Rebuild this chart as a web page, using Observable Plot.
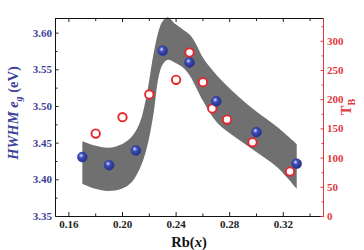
<!DOCTYPE html>
<html>
<head>
<meta charset="utf-8">
<script src="https://cdn.jsdelivr.net/npm/d3@7"></script>
<script src="https://cdn.jsdelivr.net/npm/@observablehq/plot@0.6"></script>
<style>
  html, body { margin: 0; padding: 0; background: #fff; }
  #chart svg { display: block; }
</style>
</head>
<body>
<div id="chart"></div>
<script>
// HWHM of the e_g band (left axis, eV)
const hwhmX  = [0.17, 0.19, 0.21, 0.23, 0.25, 0.27, 0.30, 0.33];
const hwhmEg = [3.431, 3.420, 3.440, 3.576, 3.560, 3.507, 3.465, 3.422];

// T_B (right axis)
const tbX      = [0.18, 0.20, 0.22, 0.24, 0.25, 0.26, 0.267, 0.278, 0.297, 0.325];
const tbValues = [142, 170, 209, 234, 281, 230, 185, 166, 127, 77];

// Shaded guide band
const bandX     = [0.1704, 0.1799, 0.1898, 0.1998, 0.2072, 0.2134, 0.2184, 0.2234, 0.2271, 0.2301, 0.2341, 0.2396, 0.2457, 0.2507, 0.2557, 0.2607, 0.2707, 0.2856, 0.3005, 0.3154, 0.3304];
const bandUpper = [3.452, 3.446, 3.443, 3.448, 3.458, 3.478, 3.515, 3.570, 3.601, 3.615, 3.621, 3.612, 3.604, 3.597, 3.583, 3.565, 3.542, 3.515, 3.492, 3.472, 3.448];
const bandLower = [3.394, 3.387, 3.384, 3.387, 3.396, 3.415, 3.442, 3.488, 3.538, 3.556, 3.563, 3.559, 3.552, 3.541, 3.524, 3.506, 3.478, 3.456, 3.437, 3.417, 3.387];

// Axes
const xDomain  = [0.15, 0.35];
const yDomain  = [3.35, 3.62];
const tbDomain = [0, 339];
const xTicks   = [0.16, 0.20, 0.24, 0.28, 0.32];
const xMinor   = [0.18, 0.22, 0.26, 0.30, 0.34];
const yTicks   = [3.35, 3.40, 3.45, 3.50, 3.55, 3.60];
const yMinor   = [3.375, 3.425, 3.475, 3.525, 3.575];
const tbTicks  = [0, 50, 100, 150, 200, 250, 300];
const tbMinor  = [25, 75, 125, 175, 225, 275, 325];

const BLUE = "#3b3f98";
const RED = "#df3a3f";
const FONT = "'Liberation Serif', 'DejaVu Serif', serif";

// map T_B onto the left-axis scale so both share one y scale
const tbToY = (t) => yDomain[0] + (t - tbDomain[0]) / (tbDomain[1] - tbDomain[0]) * (yDomain[1] - yDomain[0]);
const yToTb = (y) => tbDomain[0] + (y - yDomain[0]) / (yDomain[1] - yDomain[0]) * (tbDomain[1] - tbDomain[0]);

const hwhm = hwhmX.map((x, i) => ({x, y: hwhmEg[i]}));
const tb = tbX.map((x, i) => ({x, y: tbToY(tbValues[i])}));
const band = bandX.map((x, i) => ({x, lo: bandLower[i], hi: bandUpper[i]}));

// gradient for the shaded spheres
const sphereDefs = () => {
  const defs = d3.create("svg:defs");
  const g = defs.append("radialGradient").attr("id", "sphere")
    .attr("cx", "40%").attr("cy", "38%").attr("r", "60%").attr("fx", "38%").attr("fy", "34%");
  g.append("stop").attr("offset", "0%").attr("stop-color", "#ffffff");
  g.append("stop").attr("offset", "16%").attr("stop-color", "#8e9be6");
  g.append("stop").attr("offset", "42%").attr("stop-color", "#3a4bb4");
  g.append("stop").attr("offset", "100%").attr("stop-color", "#26318c");
  return defs.node();
};

const tickText = {fontFamily: FONT, fontWeight: "bold", fontSize: 11, label: null};

const chart = Plot.plot({
  width: 364,
  height: 250,
  marginLeft: 55,
  marginRight: 41,
  marginTop: 18,
  marginBottom: 34,
  style: {background: "#fff", overflow: "visible", fontFamily: FONT, fontWeight: "bold", fontSize: "11px"},
  x: {domain: xDomain, label: null},
  y: {domain: yDomain, label: null},
  marks: [
    sphereDefs,
    Plot.areaY(band, {x: "x", y1: "lo", y2: "hi", curve: "catmull-rom", fill: "#707070"}),
    // frame
    Plot.ruleY([yDomain[0], yDomain[1]], {stroke: "#111", strokeWidth: 1}),
    Plot.ruleX([xDomain[0]], {stroke: "#111", strokeWidth: 1}),
    Plot.ruleX([xDomain[1]], {stroke: RED, strokeWidth: 1}),
    // bottom axis
    Plot.axisX(xTicks, {...tickText, anchor: "bottom", tickSize: -4, tickPadding: 8, tickFormat: d3.format(".2f"), color: "#222"}),
    Plot.axisX(xMinor, {...tickText, anchor: "bottom", tickSize: -2.5, tickFormat: () => "", color: "#222"}),
    // top ticks
    Plot.axisX(xTicks, {...tickText, anchor: "top", tickSize: -3, tickFormat: () => "", color: "#222"}),
    Plot.axisX(xMinor, {...tickText, anchor: "top", tickSize: -2, tickFormat: () => "", color: "#222"}),
    // left axis
    Plot.axisY(yTicks, {...tickText, anchor: "left", tickSize: -3.5, tickPadding: 7, tickFormat: d3.format(".2f"), color: "#222", fill: BLUE}),
    Plot.axisY(yMinor, {...tickText, anchor: "left", tickSize: -2.5, tickFormat: () => "", color: "#222"}),
    // right axis (T_B)
    Plot.axisY(tbTicks.map(tbToY), {...tickText, anchor: "right", tickSize: -3.5, tickPadding: 7, tickFormat: (d) => Math.round(yToTb(d)), color: RED}),
    Plot.axisY(tbMinor.map(tbToY), {...tickText, anchor: "right", tickSize: -2.5, tickFormat: () => "", color: RED}),
    // data
    Plot.dot(tb, {x: "x", y: "y", r: 4.2, stroke: "#e4262c", strokeWidth: 1.9, fill: "#fff"}),
    Plot.dot(hwhm, {x: "x", y: "y", r: 5, fill: "url(#sphere)", stroke: "#26328c", strokeWidth: 0.4})
  ]
});

const svg = d3.select(chart);

// left title: HWHM e_g (eV)
const lt = svg.append("text")
  .attr("transform", "translate(18,113) rotate(-90)")
  .attr("text-anchor", "middle")
  .attr("font-family", FONT).attr("font-weight", "bold").attr("font-size", 14.5)
  .attr("fill", BLUE);
lt.append("tspan").attr("font-style", "italic").text("HWHM ");
lt.append("tspan").attr("font-style", "italic").text("e");
lt.append("tspan").attr("font-style", "italic").attr("font-size", 10).attr("dy", 4).text("g");
lt.append("tspan").attr("dy", -4).text(" (eV)");

// right title: T_B
const rt = svg.append("text")
  .attr("transform", "translate(351,107) rotate(-90)")
  .attr("text-anchor", "middle")
  .attr("font-family", FONT).attr("font-weight", "bold").attr("font-size", 14.5)
  .attr("fill", RED);
rt.append("tspan").text("T");
rt.append("tspan").attr("font-size", 10).attr("dy", 4).text("B");

// bottom title: Rb(x)
const bt = svg.append("text")
  .attr("x", 189).attr("y", 247)
  .attr("text-anchor", "middle")
  .attr("font-family", FONT).attr("font-weight", "bold").attr("font-size", 14.5)
  .attr("fill", "#111");
bt.append("tspan").text("Rb(");
bt.append("tspan").attr("font-style", "italic").text("x");
bt.append("tspan").text(")");

document.getElementById("chart").append(chart);
</script>
</body>
</html>
